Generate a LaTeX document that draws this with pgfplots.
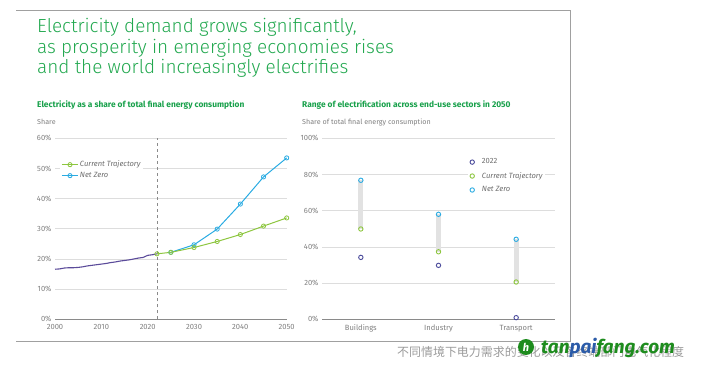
\documentclass[border=0pt]{standalone}
\usepackage{pgfplots}
\pgfplotsset{compat=1.18}
\usepackage{fontspec}
\setmainfont{Fira Sans}
\newfontfamily\lightfont{Fira Sans Light}
\newfontfamily\cjk{Noto Sans CJK SC}
\definecolor{ttl}{HTML}{22A84F}
\definecolor{sub}{HTML}{17A04A}
\definecolor{hist}{HTML}{5B4B9A}
\definecolor{ct}{HTML}{8DC63F}
\definecolor{nz}{HTML}{29ABE2}
\definecolor{yr}{HTML}{4B4B9B}
\definecolor{txt}{HTML}{808080}
\definecolor{leg}{HTML}{6E6E6E}
\definecolor{gridc}{HTML}{DDDDDD}
\definecolor{axc}{HTML}{8A8A8A}
\definecolor{framec}{HTML}{A0A0A0}
\definecolor{rng}{HTML}{E2E2E2}
\definecolor{wmg}{HTML}{1E8C1E}
\definecolor{wmb}{HTML}{2B5BA8}

\pgfplotstableread{
year share
2000 16.6
2001 16.7
2002 17.0
2003 17.1
2004 17.1
2005 17.2
2006 17.4
2007 17.7
2008 17.9
2009 18.1
2010 18.3
2011 18.5
2012 18.8
2013 19.0
2014 19.3
2015 19.5
2016 19.7
2017 20.0
2018 20.3
2019 20.5
2020 21.2
2021 21.4
2022 21.7
}\histtab

\pgfplotstableread{
year share
2022 21.7
2025 22.2
2030 23.8
2035 25.8
2040 28.1
2045 30.9
2050 33.6
}\cttab

\pgfplotstableread{
year share
2025 22.2
2030 24.7
2035 29.9
2040 38.2
2045 47.2
2050 53.5
}\nztab

\pgfplotstableread{
x y2022 yct ynz
0 34.2 49.9 76.8
1 29.8 37.3 58.0
2 0.9 20.6 44.2
}\sectab

\pgfplotsset{
  common/.style={
    scale only axis,
    axis x line*=bottom,
    axis y line*=left,
    y axis line style={draw=none},
    x axis line style={draw=axc, line width=0.8bp},
    major tick length=0pt,
    ymajorgrids,
    grid style={draw=gridc, line width=0.6bp},
    tick label style={font=\fontsize{7.6}{8}\selectfont, text=txt},
    xticklabel style={yshift=-2bp},
    /pgf/number format/assume math mode=true,
    /pgf/number format/1000 sep={},
    yticklabel={\pgfmathprintnumber{\tick}\%},
    clip=false,
    legend cell align=left,
  },
  ctline/.style={draw=ct, line width=1bp, mark=o, mark size=2.1bp, mark options={solid, draw=ct, fill=white, line width=0.8bp}},
  nzline/.style={draw=nz, line width=1bp, mark=o, mark size=2.1bp, mark options={solid, draw=nz, fill=white, line width=0.8bp}},
}

\begin{document}
\begin{tikzpicture}
\useasboundingbox (0,0) rectangle (712bp,369bp);
% frame
\draw[framec, line width=1bp] (16bp,358bp) -- (570bp,358bp) -- (570bp,27bp) -- (16bp,27bp);
% title
\node[anchor=base west, inner sep=0, text=ttl, font=\lightfont\fontsize{19}{20}\selectfont] at (37bp,336bp) {Electricity demand grows significantly,};
\node[anchor=base west, inner sep=0, text=ttl, font=\lightfont\fontsize{19}{20}\selectfont] at (37bp,315.5bp) {as prosperity in emerging economies rises};
\node[anchor=base west, inner sep=0, text=ttl, font=\lightfont\fontsize{19}{20}\selectfont] at (37bp,295bp) {and the world increasingly electrifies};
% subtitles
\node[anchor=base west, inner sep=0, text=sub, font=\bfseries\fontsize{8.4}{9}\selectfont] at (37bp,261.7bp) {Electricity as a share of total final energy consumption};
\node[anchor=base west, inner sep=0, text=txt, font=\fontsize{7.2}{8}\selectfont] at (37bp,244bp) {Share};
\node[anchor=base west, inner sep=0, text=sub, font=\bfseries\fontsize{8.4}{9}\selectfont] at (302bp,261.7bp) {Range of electrification across end-use sectors in 2050};
\node[anchor=base west, inner sep=0, text=txt, font=\fontsize{7.2}{8}\selectfont] at (302bp,244bp) {Share of total final energy consumption};

% left chart
\begin{axis}[common,
  at={(55bp,49.7bp)}, anchor=south west,
  width=231.7bp, height=181bp,
  xmin=2000, xmax=2050, ymin=0, ymax=60,
  xtick={2000,2010,...,2050},
  ytick={0,10,...,60},
  legend style={at={(0.022,0.888)}, anchor=north west, fill=white, draw=none,
    font=\itshape\fontsize{7.6}{8}\selectfont, text=leg, inner sep=1bp,
    row sep=1.5bp,
    nodes={inner sep=1.2bp}},
  legend image code/.code={\draw[mark repeat=2,mark phase=2,#1] plot coordinates {(0cm,0cm) (0.29cm,0cm) (0.58cm,0cm)};},
]
\addlegendimage{ctline}
\addlegendentry{Current Trajectory}
\addlegendimage{nzline}
\addlegendentry{Net Zero}
\addplot[forget plot, draw=axc, dashed, line width=0.7bp] coordinates {(2022,0) (2022,60)};
\addplot[forget plot, draw=hist, line width=1.1bp] table[x=year, y=share] {\histtab};
\addplot[forget plot, nzline] table[x=year, y=share] {\nztab};
\addplot[forget plot, ctline] table[x=year, y=share] {\cttab};
\end{axis}

% right chart
\begin{axis}[common,
  at={(322bp,49.7bp)}, anchor=south west,
  width=233bp, height=181bp,
  xmin=-0.5, xmax=2.5, ymin=0, ymax=100,
  xtick={0,1,2}, xticklabels={Buildings,Industry,Transport},
  ytick={0,20,...,100},
  legend style={at={(0.625,0.9)}, anchor=north west, fill=white, draw=none,
    font=\fontsize{7.6}{8}\selectfont, text=leg, inner sep=1bp,
    row sep=4.5bp,
    nodes={inner sep=1.2bp}},
  legend image code/.code={\path[draw=none, fill=none] (0cm,0cm) -- (0.42cm,0cm); \draw[mark repeat=2,mark phase=2,#1,only marks] plot coordinates {(0cm,0cm) (0.12cm,0cm) (0.42cm,0cm)};},
]
\addplot[forget plot, draw=rng, line width=5bp, unbounded coords=jump] coordinates {(0,49.9) (0,76.8) (0.5,nan) (1,37.3) (1,58.0) (1.5,nan) (2,20.6) (2,44.2)};
\addplot[only marks, draw=yr, mark=o, mark size=2.2bp, mark options={fill=white, line width=0.9bp}] table[x=x, y=y2022] {\sectab};
\addlegendentry{2022}
\addplot[only marks, draw=ct, mark=o, mark size=2.2bp, mark options={fill=white, line width=0.9bp}] table[x=x, y=yct] {\sectab};
\addlegendentry{\itshape Current Trajectory}
\addplot[only marks, draw=nz, mark=o, mark size=2.2bp, mark options={fill=white, line width=0.9bp}] table[x=x, y=ynz] {\sectab};
\addlegendentry{\itshape Net Zero}
\end{axis}

% caption and watermark
\node[anchor=base west, inner sep=0, text=txt!80, font=\cjk\fontsize{12}{13}\selectfont] at (397bp,13bp) {不同情境下电力需求的变化以及各终端部门电气化程度};
\fill[wmg] (526bp,22bp) circle (8bp);
\node[text=white, font=\bfseries\itshape\fontsize{11}{11}\selectfont, inner sep=0] at (526bp,21.5bp) {h};
\node[anchor=base west, inner sep=0, font=\bfseries\itshape\fontsize{19}{19}\selectfont] at (541bp,16bp) {\textcolor{wmg}{tan}\textcolor{wmb}{pai}\textcolor{wmg}{fang.com}};
\end{tikzpicture}
\end{document}
